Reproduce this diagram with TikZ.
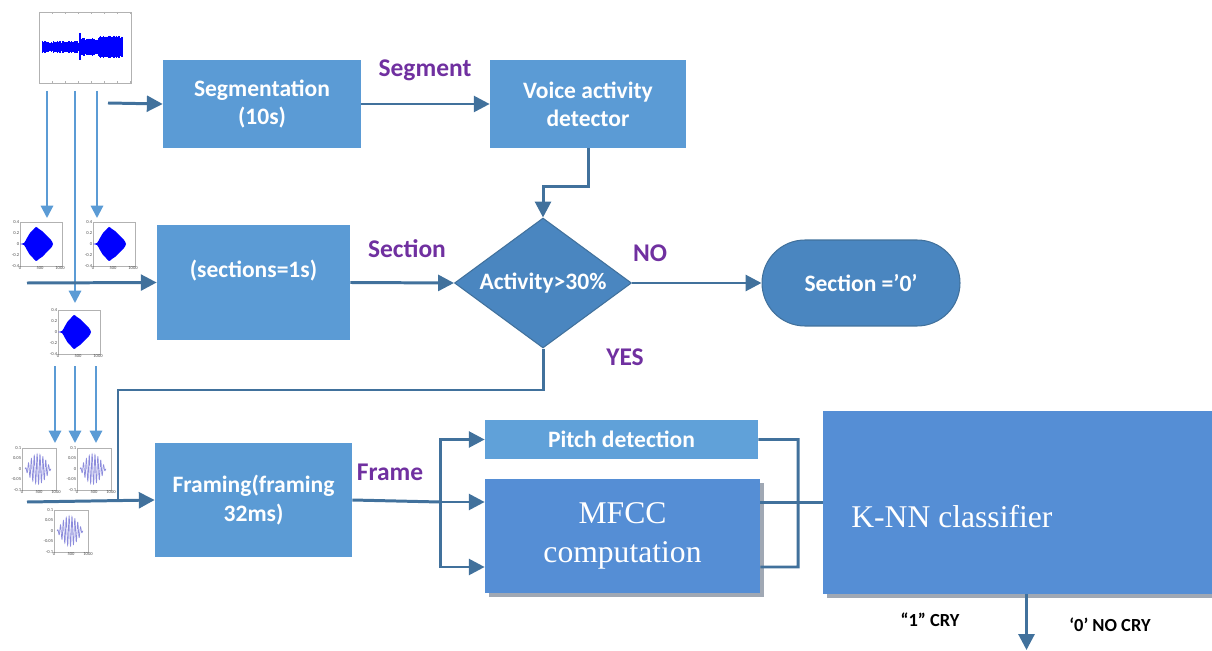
\documentclass[tikz,border=0pt]{standalone}
\usepackage{fontspec}
\setmainfont{Carlito}
\newfontfamily\timesfont{Liberation Serif}
\usetikzlibrary{shapes.geometric,shapes.misc,arrows.meta,shadows}
\definecolor{boxblue}{RGB}{91,155,213}
\definecolor{pitchblue}{RGB}{96,161,217}
\definecolor{mfccblue}{RGB}{85,142,213}
\definecolor{decblue}{RGB}{74,134,192}
\definecolor{linedark}{RGB}{65,113,156}
\definecolor{linelight}{RGB}{91,155,213}
\definecolor{labpurple}{RGB}{112,48,160}
\definecolor{sigblue}{RGB}{0,0,255}
\definecolor{wavecol}{RGB}{140,140,220}
\definecolor{shade}{RGB}{160,168,180}

\begin{document}
\begin{tikzpicture}[x=0.02cm,y=-0.02cm,
	box/.style={fill=boxblue, text=white, font=\fontsize{13.4}{16}\selectfont\bfseries, align=center, inner sep=0pt},
	bigbox/.style={fill=mfccblue, text=white, font=\timesfont\fontsize{18}{22}\selectfont, align=center, inner sep=0pt,
		drop shadow={shadow xshift=2pt, shadow yshift=-2pt, fill=shade, opacity=1}},
	decision/.style={fill=decblue, draw=linedark, line width=0.6pt, text=white, font=\fontsize{13.4}{16}\selectfont\bfseries, inner sep=0pt},
	flow/.style={draw=linedark, line width=1.7pt, -{Triangle[length=9pt,width=9pt]}},
	wire/.style={draw=linedark, line width=1.7pt},
	split/.style={draw=linelight, line width=1.2pt, -{Triangle[length=7pt,width=7pt]}},
	tag/.style={text=labpurple, font=\fontsize{14.5}{17}\selectfont\bfseries},
	outtag/.style={text=black, font=\fontsize{10.5}{12}\selectfont\bfseries},
	tick/.style={font=\fontsize{2.6}{3}\selectfont, inner sep=0.3pt, text=black!70}]
	\useasboundingbox (0,0) rectangle (1212,651);

	% signal plots
	\draw[gray!60, line width=0.3pt] (39,12) rectangle (131,83);
	\foreach \t in {39,52,...,130} \draw[gray!60, line width=0.3pt] (\t,83) -- (\t,81) (\t,12) -- (\t,14);
	\pgfmathsetseed{7}
	\foreach \i in {0,...,160}{
		\pgfmathsetmacro\wx{42+0.5*\i}
		\pgfmathsetmacro\wa{((\wx<80) ? 3.5 : ((\wx<99) ? 6.5 : 9)) + 2.5*rnd}
		\draw[sigblue, line width=0.5pt] (\wx,47-\wa) -- (\wx,47+\wa);
	}
	\draw[sigblue, line width=0.6pt] (80,33) -- (80,60);

	\foreach \px/\py in {20/222, 93/222, 58/310}{
		\begin{scope}[shift={(\px,\py)}]
			\draw[gray!60, line width=0.3pt] (0,0) rectangle (42,44);
			\fill[sigblue] plot[smooth cycle, tension=0.5] coordinates {(0,22) (4,21) (7,16) (10,11) (13,8) (16,5) (19,7) (22,9) (25,12) (28,15) (31,18) (33,22)
				(31,26) (28,29) (25,32) (22,35) (19,37) (16,39) (13,36) (10,33) (7,28) (4,23)};
			\node[tick, anchor=east] at (0,0) {0.4};
			\node[tick, anchor=east] at (0,11) {0.2};
			\node[tick, anchor=east] at (0,22) {0};
			\node[tick, anchor=east] at (0,33) {-0.2};
			\node[tick, anchor=east] at (0,44) {-0.4};
			\node[tick, anchor=north] at (0,44) {0};
			\node[tick, anchor=north] at (20,44) {500};
			\node[tick, anchor=north] at (40,44) {1000};
		\end{scope}
	}

	\foreach \px/\py in {22/448, 77/448, 54/510}{
		\begin{scope}[shift={(\px,\py)}]
			\draw[gray!60, line width=0.3pt] (0,0) rectangle (34,42);
			\draw[wavecol, line width=0.4pt] plot[domain=3:29, samples=220] (\x,{21-15*sin((\x-3)*180/26)*sin(\x*125)});
			\node[tick, anchor=east] at (0,0) {0.1};
			\node[tick, anchor=east] at (0,10.5) {0.05};
			\node[tick, anchor=east] at (0,21) {0};
			\node[tick, anchor=east] at (0,31.5) {-0.05};
			\node[tick, anchor=east] at (0,42) {-0.1};
			\node[tick, anchor=north] at (0,42) {0};
			\node[tick, anchor=north] at (17,42) {500};
			\node[tick, anchor=north] at (34,42) {1000};
		\end{scope}
	}

	% splitting arrows
	\draw[split] (47,91) -- (47,218);
	\draw[split] (97,91) -- (97,218);
	\draw[split] (75,91) -- (75,303);
	\draw[split] (55,366) -- (55,443);
	\draw[split] (75,366) -- (75,443);
	\draw[split] (96,366) -- (96,443);

	% blocks
	\node[box, minimum width=3.96cm, minimum height=1.76cm] (seg) at (262,104) {Segmentation\\(10s)};
	\node[box, minimum width=3.92cm, minimum height=1.76cm] (vad) at (588,104) {Voice activity\\detector};
	\node[box, minimum width=3.86cm, minimum height=2.30cm] (sec) at (253.5,282.5) {(sections=1s)\\ \mbox{}};
	\node[decision, shape=diamond, aspect=1.36, minimum width=3.54cm, minimum height=2.6cm] (act) at (543,283) {Activity>30\%};
	\node[decision, shape=rounded rectangle, minimum width=3.96cm, minimum height=1.72cm] (zero) at (861,283) {Section ='0'};
	\node[box, minimum width=3.94cm, minimum height=2.28cm] (frm) at (253.5,500) {Framing(framing\\32ms)};
	\node[box, fill=pitchblue, minimum width=5.46cm, minimum height=0.78cm] (pitch) at (621.5,439.5) {Pitch detection};
	\node[bigbox, minimum width=5.5cm, minimum height=2.28cm] (mfcc) at (622.5,536) {MFCC\\computation};
	\node[bigbox, minimum width=8.14cm, minimum height=3.66cm] (knn) at (1026.5,502.5) {};
	\node[text=white, font=\timesfont\fontsize{18}{22}\selectfont, anchor=west, inner sep=0pt] (knnlab) at (851,517) {K-NN classifier};

	% labels
	\node[tag] (segtag) at (425,70) {Segment};
	\node[tag] (sectag) at (407,249) {Section};
	\node[tag] (notag) at (650,253) {NO};
	\node[tag] (yestag) at (625,357) {YES};
	\node[tag] (frmtag) at (390,472) {Frame};
	\node[outtag] (crytag) at (930,620) {“1” CRY};
	\node[outtag] (nocrytag) at (1110,625) {‘0’ NO CRY};

	% connectors
	\coordinate (in1) at (108,103);
	\coordinate (in2) at (27,283);
	\coordinate (in3) at (27,502);
	\coordinate (yesjoin) at (118,502);
	\coordinate (fork) at (440,502);
	\coordinate (merge) at (798,567);
	\coordinate (out) at (1026.5,650);

	\path[flow] (in1) -- (seg.west);
	\path[flow] (seg.east) -- (vad.west);
	\path[flow] (vad.south) -- ++(0,38) -| (act.north);
	\path[flow] (in2) -- (sec.west);
	\path[flow] (sec.east) -- (act.west);
	\path[flow] (act.east) -- (zero.west);
	\path[wire] (act.south) |- (118,390) -- (yesjoin);
	\path[flow] (in3) -- (frm.west);
	\path[wire] (frm.east) -- (fork);
	\path[flow] (fork) |- (pitch.west);
	\path[flow] (fork) -- (mfcc.west |- fork);
	\path[flow] (fork) |- ([yshift=-0.62cm]mfcc.west);
	\path[wire] (pitch.east) -| (merge) -- ([yshift=-0.62cm]mfcc.east);
	\path[wire] (mfcc.east |- knn.west) -- (knn.west);
	\path[flow] (knn.south) -- (out);
\end{tikzpicture}
\end{document}
